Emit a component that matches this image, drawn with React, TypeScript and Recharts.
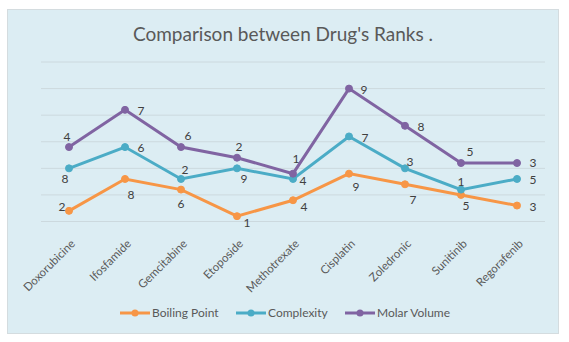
import React from "react";
import { LineChart, Line, XAxis, YAxis, CartesianGrid, Legend } from "recharts";

const drugs = ["Doxorubicine", "Ifosfamide", "Gemcitabine", "Etoposide", "Methotrexate", "Cisplatin", "Zoledronic", "Sunitinib", "Regorafenib"];
const boilingPoint = [2, 8, 6, 1, 4, 9, 7, 5, 3];
const complexity = [8, 6, 2, 9, 4, 7, 3, 1, 5];
const molarVolume = [4, 7, 6, 2, 1, 9, 8, 5, 3];
const yTicks = [0, 5, 10, 15, 20, 25, 30];

const seriesNames = ["Boiling Point", "Complexity", "Molar Volume"];
const seriesColors = ["#F79646", "#4BACC6", "#8064A2"];

// stacked line chart table built from the arrays
const data = drugs.map((d, i) => ({
  drug: d,
  bp: boilingPoint[i],
  cx: boilingPoint[i] + complexity[i],
  mv: boilingPoint[i] + complexity[i] + molarVolume[i],
}));

// label offsets (dx, dy) relative to each point
const bpOffsets = [[-7, -4], [6, 16], [0, 14], [10, 7], [11, 7], [7, 13], [8, 16], [5, 11], [16, 1]];
const cxOffsets = [[-4, 10], [16, 1], [4, -9], [7, 10], [10, 2], [16, 1], [5, -7], [0, -8], [16, 1]];
const mvOffsets = [[-2, -10], [16, 1], [7, -11], [2, -11], [3, -15], [15, 1], [16, 1], [9, -11], [16, 0]];

const FONT = "Lato, 'Open Sans', sans-serif";

const makeLabel = (values: number[], offsets: number[][]) => (props: any) => {
  const { x, y, index } = props;
  if (x == null || y == null) return null;
  const o = offsets[index] || [0, 0];
  return (
    <text x={x + o[0]} y={y + o[1]} dy="0.35em" textAnchor="middle" fontSize={12} fill="#404040" fontFamily={FONT}>
      {values[index]}
    </text>
  );
};

const XTick = (props: any) => {
  const { x, y, payload } = props;
  return (
    <g transform={`translate(${x + 4},${y + 12}) rotate(-45)`}>
      <text x={0} y={0} dy="0.35em" textAnchor="end" fontSize={11.5} fill="#595959" fontFamily={FONT}>
        {payload.value}
      </text>
    </g>
  );
};

const LegendContent = () => {
  const items = [
    { x: 120, w: 30 },
    { x: 236, w: 30 },
    { x: 345, w: 30 },
  ];
  return (
    <svg width={569} height={30} style={{ display: "block" }}>
      {seriesNames.map((n, i) => (
        <g key={n}>
          <line x1={items[i].x} x2={items[i].x + items[i].w} y1={15} y2={15} stroke={seriesColors[i]} strokeWidth={3} />
          <circle cx={items[i].x + items[i].w / 2} cy={15} r={3.5} fill={seriesColors[i]} />
          <text x={items[i].x + items[i].w + 2} y={15} dy="0.35em" fontSize={12} fill="#595959" fontFamily={FONT}>
            {n}
          </text>
        </g>
      ))}
    </svg>
  );
};

export default function App() {
  return (
    <div style={{ position: "absolute", left: 0, top: 0, width: 569, height: 342, background: "#ffffff" }}>
      <div
        style={{
          position: "absolute",
          left: 7,
          top: 9,
          width: 550,
          height: 323,
          background: "#DCEDF3",
          border: "1px solid #D4DCDF",
        }}
      />
      <div
        style={{
          position: "absolute",
          left: 0,
          top: 22,
          width: 566,
          textAlign: "center",
          fontFamily: FONT,
          fontSize: 19,
          color: "#595959",
        }}
      >
        Comparison between Drug's Ranks .
      </div>
      <div style={{ position: "absolute", left: 0, top: 0 }}>
        <LineChart width={569} height={342} data={data} margin={{ top: 62, right: 24, left: 41, bottom: 14 }}>
          <CartesianGrid vertical={false} stroke="#CCD9DE" strokeWidth={1} />
          <YAxis hide domain={[0, 30]} ticks={yTicks} />
          <XAxis
            dataKey="drug"
            padding={{ left: 28, right: 28 }}
            axisLine={false}
            tickLine={false}
            interval={0}
            height={76.5}
            tick={<XTick />}
          />
          <Legend
            verticalAlign="bottom"
            height={30}
            wrapperStyle={{ left: 0, width: 569 }}
            content={<LegendContent />}
          />
          <Line
            dataKey="bp"
            name={seriesNames[0]}
            stroke={seriesColors[0]}
            strokeWidth={3}
            dot={{ r: 3.5, fill: seriesColors[0], stroke: seriesColors[0], strokeWidth: 1 }}
            isAnimationActive={false}
            label={makeLabel(boilingPoint, bpOffsets)}
          />
          <Line
            dataKey="cx"
            name={seriesNames[1]}
            stroke={seriesColors[1]}
            strokeWidth={3}
            dot={{ r: 3.5, fill: seriesColors[1], stroke: seriesColors[1], strokeWidth: 1 }}
            isAnimationActive={false}
            label={makeLabel(complexity, cxOffsets)}
          />
          <Line
            dataKey="mv"
            name={seriesNames[2]}
            stroke={seriesColors[2]}
            strokeWidth={3}
            dot={{ r: 3.5, fill: seriesColors[2], stroke: seriesColors[2], strokeWidth: 1 }}
            isAnimationActive={false}
            label={makeLabel(molarVolume, mvOffsets)}
          />
        </LineChart>
      </div>
    </div>
  );
}
